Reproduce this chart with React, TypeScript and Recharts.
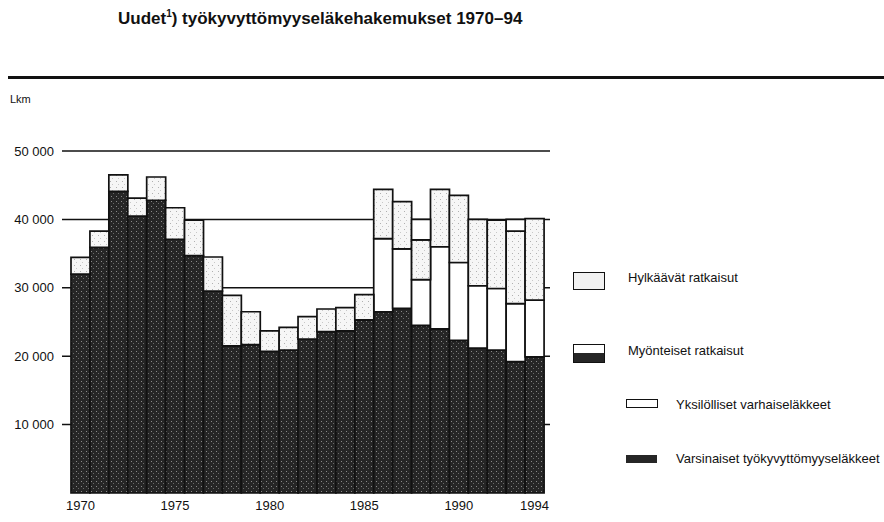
import { BarChart, Bar, XAxis, YAxis, CartesianGrid } from 'recharts';

// Uudet työkyvyttömyyseläkehakemukset 1970–94 (lkm), luettu kuvasta
const vuodet = [
  '1970', '1971', '1972', '1973', '1974', '1975', '1976', '1977', '1978', '1979',
  '1980', '1981', '1982', '1983', '1984', '1985', '1986', '1987', '1988', '1989',
  '1990', '1991', '1992', '1993', '1994',
];
const varsinaiset = [
  32000, 35900, 44100, 40500, 42800, 37100, 34700, 29500, 21500, 21700,
  20700, 20900, 22500, 23600, 23700, 25300, 26500, 27000, 24500, 24000,
  22300, 21200, 20900, 19200, 19900,
];
const yksilolliset = [
  0, 0, 0, 0, 0, 0, 0, 0, 0, 0,
  0, 0, 0, 0, 0, 0, 10700, 8700, 6700, 12000,
  11400, 9100, 9000, 8500, 8300,
];
const hylkaavat = [
  2450, 2400, 2400, 2600, 3400, 4600, 5200, 5000, 7400, 4800,
  3000, 3300, 3300, 3300, 3400, 3700, 7200, 6900, 5800, 8400,
  9800, 9700, 10000, 10600, 11900,
];
// valkoinen, merkitsemätön osa pylvään yläpäässä (1988 ja 1993)
const merkitsematon = [
  0, 0, 0, 0, 0, 0, 0, 0, 0, 0,
  0, 0, 0, 0, 0, 0, 0, 0, 3000, 0,
  0, 0, 0, 1700, 0,
];
const yTicks = [10000, 20000, 30000, 40000, 50000];
const xLabels = ['1970', '1975', '1980', '1985', '1990', '1994'];

const DARK = '#262626';
const LIGHT = '#f1f1f1';
const INK = '#111111';
const FONT = '"Liberation Sans", Arial, sans-serif';

const data = vuodet.map((v, i) => ({
  vuosi: v,
  varsinaiset: varsinaiset[i],
  yksilolliset: yksilolliset[i],
  hylkaavat: hylkaavat[i],
  merkitsematon: merkitsematon[i],
}));

const fmt = (v: number) => (v === 0 ? '0' : `${v / 1000} 000`);

function Legend() {
  const text = { position: 'absolute' as const, fontSize: 13, lineHeight: '15px', color: INK };
  return (
    <>
      <div style={{ position: 'absolute', left: 573, top: 272, width: 30, height: 16, border: `1px solid ${INK}`, background: LIGHT }} />
      <div style={{ ...text, left: 628, top: 270 }}>Hylkäävät ratkaisut</div>

      <div style={{ position: 'absolute', left: 573, top: 344, width: 30, height: 17, border: `1px solid ${INK}`, background: `linear-gradient(#fff 0 50%, ${DARK} 50% 100%)` }} />
      <div style={{ ...text, left: 628, top: 343 }}>Myönteiset ratkaisut</div>

      <div style={{ position: 'absolute', left: 626, top: 399, width: 30, height: 7, border: `1px solid ${INK}`, background: '#fff' }} />
      <div style={{ ...text, left: 676, top: 397 }}>Yksilölliset varhaiseläkkeet</div>

      <div style={{ position: 'absolute', left: 626, top: 455, width: 31, height: 8, background: DARK }} />
      <div style={{ ...text, left: 676, top: 451 }}>Varsinaiset työkyvyttömyyseläkkeet</div>
    </>
  );
}

export default function App() {
  return (
    <div style={{ position: 'absolute', left: 0, top: 0, width: 884, height: 522, background: '#fff', fontFamily: FONT }}>
      <div style={{ position: 'absolute', left: 118, top: 8, fontSize: 17, fontWeight: 700, color: INK, whiteSpace: 'nowrap' }}>
        Uudet<sup style={{ fontSize: 10 }}>1</sup>) työkyvyttömyyseläkehakemukset 1970–94
      </div>
      <div style={{ position: 'absolute', left: 8, top: 76, width: 876, height: 3, background: INK }} />
      <div style={{ position: 'absolute', left: 10, top: 93, fontSize: 11, color: INK }}>Lkm</div>

      <BarChart
        width={884}
        height={522}
        data={data}
        margin={{ top: 151, right: 334, bottom: 0, left: 0 }}
        barCategoryGap={0}
        style={{ position: 'absolute', left: 0, top: 0 }}
      >
        <defs>
          <pattern id="tumma" width="5" height="5" patternUnits="userSpaceOnUse">
            <rect width="5" height="5" fill={DARK} />
            <rect x="1" y="1" width="1" height="1" fill="#8a8a8a" />
            <rect x="3" y="3" width="1" height="1" fill="#6a6a6a" />
          </pattern>
          <pattern id="vaalea" width="6" height="6" patternUnits="userSpaceOnUse">
            <rect width="6" height="6" fill="#f6f6f6" />
            <rect x="2" y="1" width="1" height="1" fill="#b0b0b0" />
            <rect x="4" y="4" width="1" height="1" fill="#c8c8c8" />
          </pattern>
        </defs>
        <CartesianGrid vertical={false} stroke={INK} strokeWidth={1.5} horizontalValues={yTicks} />
        <XAxis
          dataKey="vuosi"
          interval={0}
          height={29}
          axisLine={false}
          tickLine={false}
          padding={{ left: 9, right: 6 }}
          tick={{ fontSize: 13, fill: INK, fontFamily: FONT }}
          tickFormatter={(v: string) => (xLabels.includes(v) ? v : '')}
        />
        <YAxis
          width={62}
          domain={[0, 50000]}
          ticks={yTicks}
          axisLine={false}
          tickLine={false}
          tick={{ fontSize: 13, fill: INK, fontFamily: FONT }}
          tickFormatter={fmt}
        />
        <Bar dataKey="varsinaiset" stackId="a" fill="url(#tumma)" stroke={INK} strokeWidth={1.7} isAnimationActive={false} />
        <Bar dataKey="yksilolliset" stackId="a" fill="#ffffff" stroke={INK} strokeWidth={1.7} isAnimationActive={false} />
        <Bar dataKey="hylkaavat" stackId="a" fill="url(#vaalea)" stroke={INK} strokeWidth={1.7} isAnimationActive={false} />
        <Bar dataKey="merkitsematon" stackId="a" fill="#ffffff" stroke={INK} strokeWidth={1.7} isAnimationActive={false} />
      </BarChart>
      <Legend />
    </div>
  );
}
